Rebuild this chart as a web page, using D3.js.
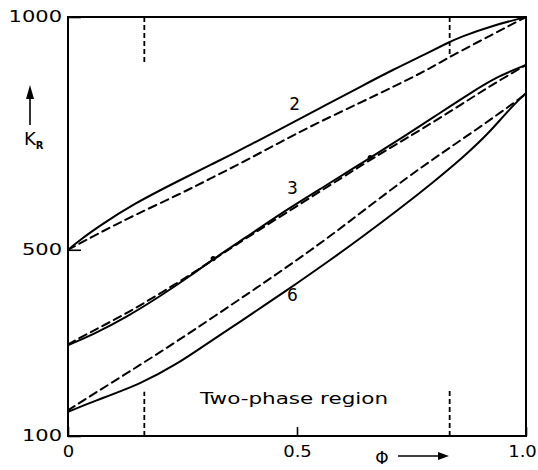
<!DOCTYPE html>
<html>
<head>
<meta charset="utf-8">
<script src="https://cdn.jsdelivr.net/npm/d3@7"></script>
<style>
    body { margin: 0; background: #fff; }
    svg { display: block; font-family: "DejaVu Sans", sans-serif; }
</style>
</head>
<body>
<svg id="chart" width="538" height="470"></svg>
<script>
// K_R against phi, three pairs of curves (solid = measured, dashed = calculated)
const xTicks = [0, 0.5, 1];
const xTickLabels = ['0', '0.5', '1.0'];
const yTicks = [100, 500, 1000];

const curve2Solid = [[0, 500], [0.026, 521], [0.07, 552], [0.142, 598], [0.245, 650], [0.317, 685], [0.391, 722], [0.463, 759], [0.55, 804], [0.638, 850], [0.71, 887], [0.784, 922], [0.828, 944], [0.856, 957], [0.928, 982], [1, 1000]];
const curve2Dashed = [[0, 500], [0.07, 537], [0.142, 573], [0.245, 620], [0.317, 656], [0.391, 693], [0.463, 731], [0.535, 768], [0.638, 816], [0.71, 850], [0.784, 886], [0.834, 915], [0.928, 963], [1, 1000]];

const curve3Solid = [[0, 295], [0.055, 318], [0.129, 356], [0.201, 400], [0.273, 448], [0.317, 480], [0.391, 528], [0.463, 577], [0.55, 630], [0.638, 684], [0.66, 698], [0.74, 747], [0.812, 794], [0.884, 840], [0.937, 872], [1, 897]];
const curve3Dashed = [[0, 297], [0.055, 326], [0.129, 364], [0.201, 406], [0.273, 450], [0.325, 484], [0.4, 532], [0.5, 594], [0.6, 656], [0.681, 706], [0.74, 740], [0.812, 783], [0.884, 828], [0.937, 861], [1, 897]];

const curve6Solid = [[0, 152], [0.055, 174], [0.164, 214], [0.238, 255], [0.288, 288], [0.36, 335], [0.434, 384], [0.5, 428], [0.57, 476], [0.64, 526], [0.72, 585], [0.8, 647], [0.87, 705], [0.92, 752], [0.96, 798], [1, 837]];
const curve6Dashed = [[0, 155], [0.055, 190], [0.129, 235], [0.201, 280], [0.273, 326], [0.36, 384], [0.434, 433], [0.507, 483], [0.579, 534], [0.653, 590], [0.74, 655], [0.812, 705], [0.884, 753], [0.959, 805], [1, 835]];

const curveLabels = [['2', 0.495, 800], ['3', 0.49, 620], ['6', 0.49, 390]];
const dots = [[0.317, 481], [0.66, 698]];

// short dashed markers at the edges of the two-phase region
const guides = [
    { phi: 1 / 6, k0: 1000, k1: 903 },
    { phi: 1 / 6, k0: 100, k1: 195 },
    { phi: 5 / 6, k0: 1000, k1: 918 },
    { phi: 5 / 6, k0: 100, k1: 203 }
];

const svg = d3.select('#chart');
const x = d3.scaleLinear().domain([0, 1]).range([68, 526]);
const y = d3.scaleLinear().domain([100, 1000]).range([436, 17]);

const line = d3.line()
    .x(d => x(d[0]))
    .y(d => y(d[1]))
    .curve(d3.curveBasis);

// stretch the text a bit, the original lettering is wide
function widen(sel, f) {
    sel.attr('lengthAdjust', 'spacingAndGlyphs')
        .attr('textLength', function () { return this.getComputedTextLength() * f; });
}

// frame
svg.append('rect')
    .attr('x', x(0)).attr('y', y(1000))
    .attr('width', x(1) - x(0)).attr('height', y(100) - y(1000))
    .attr('fill', 'none').attr('stroke', '#000').attr('stroke-width', 2);

// axes
const yAxis = svg.append('g')
    .attr('transform', `translate(${x(0)},0)`)
    .call(d3.axisLeft(y).tickValues(yTicks).tickFormat(d3.format('d')).tickSizeInner(-13).tickSizeOuter(0).tickPadding(6));
const xAxis = svg.append('g')
    .attr('transform', `translate(0,${y(100)})`)
    .call(d3.axisBottom(x).tickValues(xTicks).tickFormat((d, i) => xTickLabels[i]).tickSizeInner(-9).tickSizeOuter(0).tickPadding(10));

[yAxis, xAxis].forEach(ax => {
    ax.select('.domain').remove();
    ax.selectAll('line').attr('stroke', '#000').attr('stroke-width', 1.6);
    ax.selectAll('text').attr('font-size', 15).attr('fill', '#000').attr('font-family', '"DejaVu Sans", sans-serif');
});
yAxis.selectAll('text').call(widen, 1.4);
xAxis.selectAll('text').call(widen, 1.2);
xAxis.selectAll('.tick').filter(d => d === 1).select('text').attr('dx', -4);

// guides
svg.selectAll('.guide')
    .data(guides)
    .enter().append('line')
    .attr('class', 'guide')
    .attr('x1', d => x(d.phi)).attr('x2', d => x(d.phi))
    .attr('y1', d => y(d.k0)).attr('y2', d => y(d.k1))
    .attr('stroke', '#000').attr('stroke-width', 1.8)
    .attr('stroke-dasharray', '5,3');

// curves
const series = [
    { data: curve2Solid, dashed: false },
    { data: curve2Dashed, dashed: true },
    { data: curve3Dashed, dashed: true },
    { data: curve3Solid, dashed: false },
    { data: curve6Solid, dashed: false },
    { data: curve6Dashed, dashed: true }
];
svg.selectAll('.curve')
    .data(series)
    .enter().append('path')
    .attr('class', 'curve')
    .attr('d', d => line(d.data))
    .attr('fill', 'none')
    .attr('stroke', '#000')
    .attr('stroke-width', 2)
    .attr('stroke-linecap', 'round')
    .attr('stroke-dasharray', d => d.dashed ? '8,5' : null);

svg.selectAll('.dot')
    .data(dots)
    .enter().append('circle')
    .attr('cx', d => x(d[0])).attr('cy', d => y(d[1]))
    .attr('r', 2.6).attr('fill', '#000');

// curve numbers
svg.selectAll('.clabel')
    .data(curveLabels)
    .enter().append('text')
    .attr('x', d => x(d[1])).attr('y', d => y(d[2]))
    .attr('text-anchor', 'middle')
    .attr('font-size', 17)
    .text(d => d[0]);

svg.append('text')
    .attr('x', 200).attr('y', 404)
    .attr('font-size', 16)
    .attr('textLength', 188).attr('lengthAdjust', 'spacingAndGlyphs')
    .text('Two-phase region');

// y axis title with arrow
svg.append('line')
    .attr('x1', 30).attr('x2', 30).attr('y1', 125).attr('y2', 96)
    .attr('stroke', '#000').attr('stroke-width', 1.6);
svg.append('path')
    .attr('d', 'M30,85 L26,99 L34,99 Z')
    .attr('fill', '#000');
const kTitle = svg.append('text')
    .attr('x', 24).attr('y', 145)
    .attr('font-size', 18);
kTitle.append('tspan').text('K');
kTitle.append('tspan').attr('font-size', 10).attr('font-weight', 'bold').attr('dy', 4).text('R');

// x axis title with arrow
svg.append('text')
    .attr('x', 382).attr('y', 464)
    .attr('text-anchor', 'middle')
    .attr('font-size', 17)
    .text('Φ');
svg.append('line')
    .attr('x1', 398).attr('x2', 440).attr('y1', 456).attr('y2', 456)
    .attr('stroke', '#000').attr('stroke-width', 1.6);
svg.append('path')
    .attr('d', 'M449,456 L438,452 L438,460 Z')
    .attr('fill', '#000');
</script>
</body>
</html>
